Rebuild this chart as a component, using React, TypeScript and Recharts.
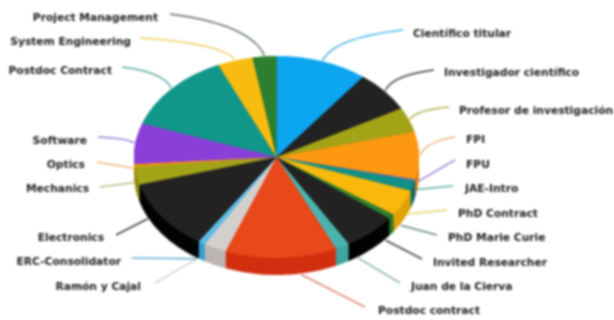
import { PieChart, Pie } from 'recharts';

const categories = [
  'Científico titular', 'Investigador científico', 'Profesor de investigación', 'FPI', 'FPU',
  'JAE-Intro', 'PhD Contract', 'PhD Marie Curie', 'Invited Researcher', 'Juan de la Cierva',
  'Postdoc contract', 'Ramón y Cajal', 'ERC-Consolidator', 'Electronics', 'Mechanics',
  'Optics', 'Software', 'Postdoc Contract', 'System Engineering', 'Project Management',
];
const shares = [10.4, 6.6, 4.0, 7.6, 0.15, 1.7, 4.2, 0.8, 6.1, 1.6, 12.7, 2.6, 0.8, 11.4, 2.9, 0.4, 6.5, 12.9, 4.0, 2.7];

const topColors = [
  '#0ba5f0', '#222222', '#a3a318', '#fd9810', '#7a5fd0', '#118f88', '#f8b90c', '#2c7f2f', '#222222', '#4bb3ad',
  '#e8481a', '#d3cfcd', '#5bbde8', '#222222', '#a3a318', '#fd9810', '#8a3fd8', '#11968a', '#f8bb10', '#2c7f2f',
];
const sideColors = [
  '#0b85c8', '#050505', '#85850f', '#e08008', '#6048b0', '#0c6f6a', '#e0a008', '#24762a', '#030303', '#3fa6a0',
  '#d22f10', '#bdb5b0', '#3a9fd0', '#050505', '#8f8f10', '#e08008', '#6f30b0', '#0c7a70', '#e0a008', '#24762a',
];
const leaderColors = [
  '#4fb4e8', '#404040', '#b0b050', '#f0b080', '#a088e0', '#60b0aa', '#e0d860', '#608878', '#404040', '#88b4b0',
  '#e08878', '#d8d4d0', '#60acd0', '#404040', '#b4bc80', '#f0b870', '#9880d8', '#60a8a0', '#f0cc60', '#607060',
];

// where each label sits, and where its leader line stops
const labelX = [413, 444, 459, 466, 466, 465, 458, 448, 433, 411, 378, 141, 121, 104, 89, 85, 87, 112, 131, 158];
const labelY = [33, 72, 110, 139, 164, 188, 213, 237, 262, 286, 310, 286, 261, 237, 188, 164, 140, 70, 41, 17];
const leaderEndX = [403, 434, 449, 455, 455, 453, 447, 437, 422, 400, 365, 155, 132, 116, 100, 97, 98, 122, 140, 170];
const leaderEndY = [30, 70, 107, 137, 160, 186, 210, 235, 259, 283, 307, 283, 258, 235, 187, 162, 137, 67, 38, 14];
// leaders do not leave exactly from the middle of the slice, degrees clockwise
const leaderNudge = [0, 0, 0, 0, -3, -3, -3, -6, -8, -7, -8, 8, 2, 10, 0, 0, 0, 0, 0, 0];

const slices = categories.map((name, i) => ({ name, value: shares[i], fill: topColors[i] }));
const sideSlices = categories.map((name, i) => ({ name, value: shares[i], fill: sideColors[i] }));

const CX = 276.5;
const CY = 157;
const RX = 142.5;
const RY = 101;
const DEPTH = 17;
const squash = RY / RX;
const noMargin = { top: 0, right: 0, bottom: 0, left: 0 };
const depthSteps = Array.from({ length: Math.ceil(DEPTH / squash) }, (_, i) => Math.ceil(DEPTH / squash) - i);

function renderLabel(props: any) {
  const { index, midAngle, name } = props;
  const rad = ((midAngle - leaderNudge[index]) * Math.PI) / 180;
  const dx = Math.cos(rad);
  const dy = -Math.sin(rad);
  // leader starts on the rim, lower half starts on the bottom edge of the side wall
  const sx = CX + (RX + 1) * dx;
  const sy = CY + (RY + 1) * dy + (dy > 0 ? DEPTH * Math.min(1, dy * 2.2) : 0);
  const ex = leaderEndX[index];
  const ey = leaderEndY[index];
  const mx = dy < 0 ? sx + (ex - sx) * 0.15 : (sx + ex) / 2;
  const my = dy < 0 ? sy + (ey - sy) * 0.75 : (sy + ey) / 2;
  const isRight = index <= 10;
  return (
    <g key={name}>
      <path d={`M${sx},${sy} Q${mx},${my} ${ex},${ey}`} fill="none" stroke={leaderColors[index]} strokeWidth={1.5} />
      <text
        x={labelX[index]}
        y={labelY[index]}
        dy="0.35em"
        textAnchor={isRight ? 'start' : 'end'}
        fontFamily="'DejaVu Sans', sans-serif"
        fontWeight="bold"
        fontSize={10.7}
        fill="#222222"
      >
        {name}
      </text>
    </g>
  );
}

export default function App() {
  return (
    <div style={{ position: 'absolute', left: 0, top: 0, width: 614, height: 320, overflow: 'hidden', background: '#fff', filter: 'blur(0.8px)' }}>
      <div style={{ position: 'absolute', left: 0, top: 0, transform: `scaleY(${squash})`, transformOrigin: `0 ${CY}px` }}>
        <PieChart width={614} height={420} margin={noMargin}>
          {depthSteps.map((step) => (
            <Pie
              key={step}
              data={sideSlices}
              dataKey="value"
              cx={CX}
              cy={CY + step}
              outerRadius={RX}
              startAngle={90}
              endAngle={-270}
              stroke="none"
              isAnimationActive={false}
            />
          ))}
          <Pie
            data={slices}
            dataKey="value"
            cx={CX}
            cy={CY}
            outerRadius={RX}
            startAngle={90}
            endAngle={-270}
            stroke="none"
            isAnimationActive={false}
          />
        </PieChart>
      </div>
      <div style={{ position: 'absolute', left: 0, top: 0 }}>
        <PieChart width={614} height={320} margin={noMargin}>
          <Pie
            data={slices}
            dataKey="value"
            cx={CX}
            cy={CY}
            outerRadius={RX}
            startAngle={90}
            endAngle={-270}
            fill="none"
            fillOpacity={0}
            stroke="none"
            label={renderLabel}
            labelLine={false}
            isAnimationActive={false}
          />
        </PieChart>
      </div>
    </div>
  );
}
